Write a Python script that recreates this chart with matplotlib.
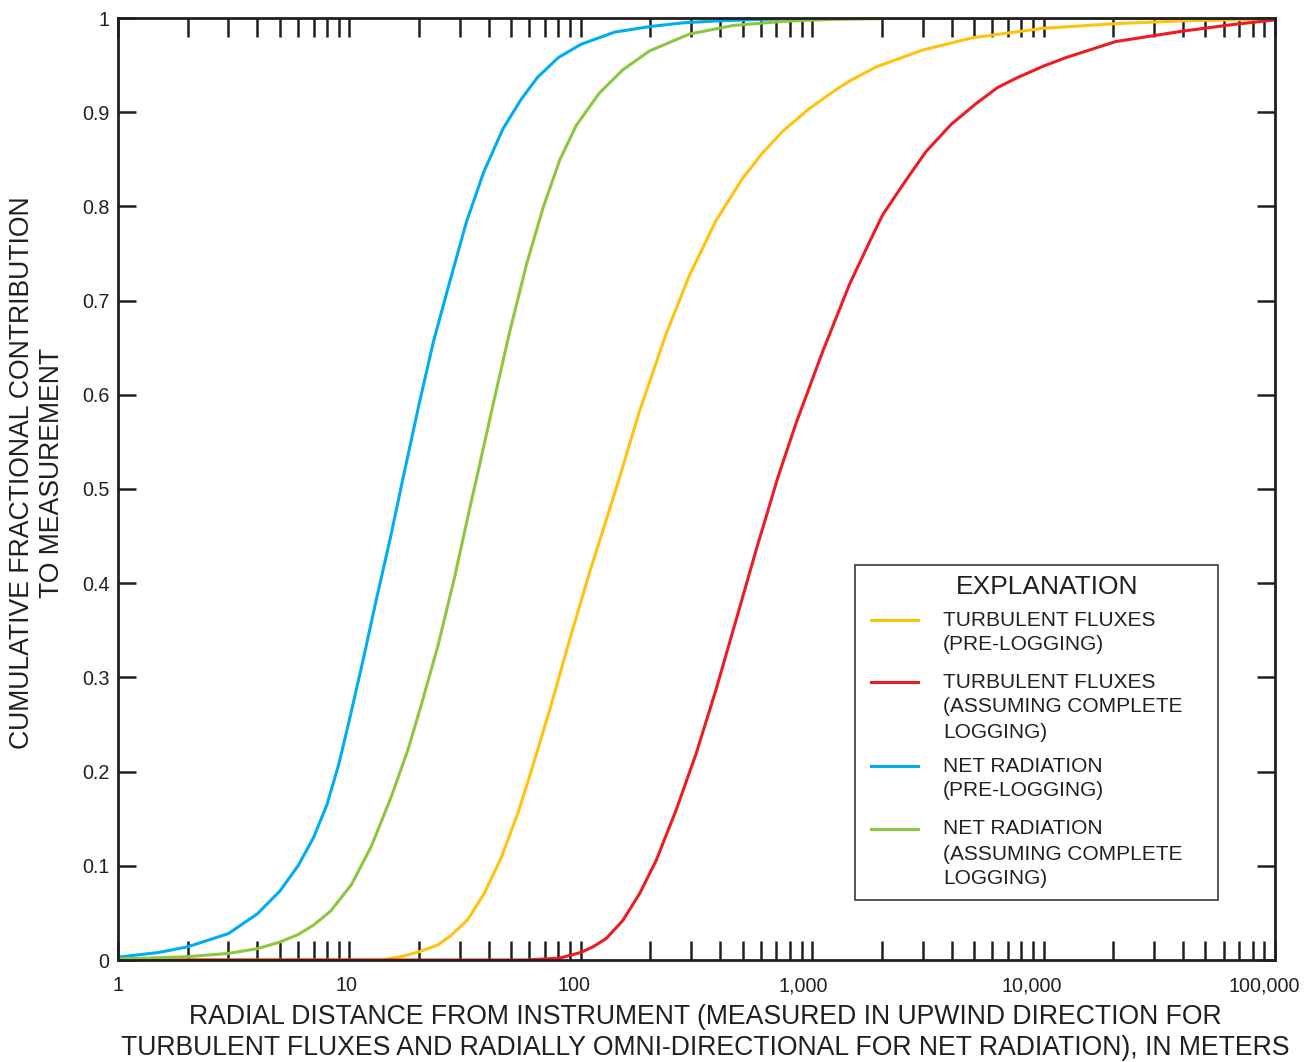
import numpy as np
import matplotlib
matplotlib.use("Agg")
import matplotlib.pyplot as plt
import matplotlib.transforms as mtransforms
from matplotlib.ticker import FixedLocator, FixedFormatter, LogLocator, NullFormatter
from matplotlib.lines import Line2D
from matplotlib.patches import Rectangle

plt.rcParams['font.family'] = ['Liberation Sans', 'DejaVu Sans']

# ---------------- data ----------------
x_ticks = [1, 10, 100, 1000, 10000, 100000]
x_tick_labels = ["1", "10", "100", "1,000", "10,000", "100,000"]
y_ticks = [0, 0.1, 0.2, 0.3, 0.4, 0.5, 0.6, 0.7, 0.8, 0.9, 1.0]
y_tick_labels = ["0", "0.1", "0.2", "0.3", "0.4", "0.5", "0.6", "0.7", "0.8", "0.9", "1"]

turb_pre_x = [1, 13.7, 16.7, 20.2, 24.1, 27.5, 32.5, 38.3, 45.2, 53.3, 60.1, 73.3, 89.5,
              109, 133, 147, 179, 234, 295, 384, 501, 611, 747, 973, 1268, 1448, 1888,
              3000, 4930, 9890, 20500, 39800, 100000]
turb_pre_y = [0, 0, 0.0035, 0.009, 0.016, 0.026, 0.043, 0.071, 0.108, 0.155, 0.195, 0.265,
              0.340, 0.411, 0.478, 0.512, 0.582, 0.665, 0.727, 0.785, 0.830, 0.857, 0.880,
              0.904, 0.924, 0.933, 0.948, 0.966, 0.979, 0.989, 0.994, 0.997, 0.999]

turb_log_x = [1, 58, 81, 100, 113, 129, 152, 180, 212, 258, 315, 384, 469, 572, 664, 710,
              852, 1110, 1448, 1766, 2016, 2512, 3100, 3981, 5100, 6310, 7590, 10000,
              12500, 20500, 39800, 65400, 100000]
turb_log_y = [0, 0, 0.002, 0.008, 0.014, 0.023, 0.042, 0.071, 0.106, 0.159, 0.219, 0.287,
              0.361, 0.435, 0.488, 0.512, 0.570, 0.646, 0.717, 0.762, 0.791, 0.826, 0.858,
              0.887, 0.909, 0.926, 0.936, 0.949, 0.958, 0.975, 0.986, 0.993, 0.998]

rad_pre_x = [1, 1.5, 2, 3, 4, 5, 6, 7, 8, 9, 10, 11.5, 13, 15, 17, 20, 23, 27, 32, 38, 46,
             55, 65, 80, 100, 140, 200, 280, 400, 600, 1000, 100000]
rad_pre_y = [0.003, 0.008, 0.014, 0.028, 0.049, 0.073, 0.100, 0.130, 0.165, 0.208, 0.255,
             0.320, 0.380, 0.447, 0.510, 0.590, 0.655, 0.718, 0.783, 0.836, 0.882, 0.913,
             0.937, 0.958, 0.972, 0.985, 0.991, 0.995, 0.997, 0.9985, 0.9995, 1.0]

rad_log_x = [1, 2, 3, 4, 5, 6, 7, 8.3, 10.2, 12.4, 15.1, 17.9, 20.4, 24.1, 28.4, 33.5, 35.2,
             41.8, 49.3, 58.2, 68.6, 81, 95.6, 120, 152, 198, 295, 454, 750, 1200, 3000, 100000]
rad_log_y = [0.001, 0.0035, 0.007, 0.012, 0.019, 0.027, 0.037, 0.052, 0.080, 0.120, 0.172,
             0.223, 0.270, 0.333, 0.405, 0.485, 0.508, 0.590, 0.667, 0.738, 0.798, 0.849,
             0.886, 0.920, 0.945, 0.965, 0.983, 0.992, 0.9965, 0.9985, 1.0, 1.0]

series_labels = [
    ["TURBULENT FLUXES", "(PRE-LOGGING)"],
    ["TURBULENT FLUXES", "(ASSUMING COMPLETE", "LOGGING)"],
    ["NET RADIATION", "(PRE-LOGGING)"],
    ["NET RADIATION", "(ASSUMING COMPLETE", "LOGGING)"],
]
series_colors = ["#FFC20E", "#ED1C24", "#00AEEF", "#8DC63F"]

# ---------------- figure ----------------
W, H = 1309, 1062
fig = plt.figure(figsize=(W / 100, H / 100), dpi=100)
L_px, R_px, T_px, B_px = 118, 1275, 18, 960
ax = fig.add_axes([L_px / W, 1 - B_px / H, (R_px - L_px) / W, (B_px - T_px) / H])

dark = "#231F20"
lw = 2.2
series = [(turb_pre_x, turb_pre_y), (turb_log_x, turb_log_y),
          (rad_pre_x, rad_pre_y), (rad_log_x, rad_log_y)]
for (xs, ys), c in zip(series, series_colors):
    ax.plot(xs, ys, color=c, lw=lw, solid_joinstyle='round', zorder=2)

ax.set_xscale('log')
ax.set_xlim(1, 100000)
ax.set_ylim(0, 1)

ax.xaxis.set_major_locator(FixedLocator(x_ticks))
ax.xaxis.set_major_formatter(NullFormatter())
ax.xaxis.set_minor_locator(LogLocator(base=10, subs=np.arange(2, 10)))
ax.xaxis.set_minor_formatter(NullFormatter())
ax.yaxis.set_major_locator(FixedLocator(y_ticks))
ax.yaxis.set_major_formatter(FixedFormatter(y_tick_labels))

for sp in ax.spines.values():
    sp.set_linewidth(2.0)
    sp.set_color(dark)
    sp.set_zorder(3)

tick_fs = 14.2
ax.tick_params(axis='x', which='both', direction='in', top=True, bottom=True,
               length=13.5, width=1.8, color=dark)
ax.tick_params(axis='y', which='major', direction='in', left=True, right=True,
               length=13.0, width=1.8, color=dark, labelsize=tick_fs, pad=6, labelcolor=dark)

# x tick labels (slightly shifted left as in the reference)
x_label_shift_px = [0, -3, -7, -9, -12, -11]
base = mtransforms.blended_transform_factory(ax.transData, ax.transAxes)
for xv, txt, dx in zip(x_ticks, x_tick_labels, x_label_shift_px):
    off = mtransforms.ScaledTranslation(dx / 100, -31 / 100, fig.dpi_scale_trans)
    ax.text(xv, 0, txt, transform=base + off, ha='center', va='baseline',
            fontsize=tick_fs, color=dark, clip_on=False)

# axis labels
lab_fs = 19.2
fig.text(705 / W, 1 - 1017 / H,
         "RADIAL DISTANCE FROM INSTRUMENT (MEASURED IN UPWIND DIRECTION FOR",
         ha='center', va='center', fontsize=lab_fs, color=dark)
fig.text(705 / W, 1 - 1048 / H,
         "TURBULENT FLUXES AND RADIALLY OMNI-DIRECTIONAL FOR NET RADIATION), IN METERS",
         ha='center', va='center', fontsize=lab_fs, color=dark)
fig.text(22 / W, 1 - 473 / H, "CUMULATIVE FRACTIONAL CONTRIBUTION",
         ha='center', va='center', rotation=90, fontsize=lab_fs, color=dark)
fig.text(52 / W, 1 - 473 / H, "TO MEASUREMENT",
         ha='center', va='center', rotation=90, fontsize=lab_fs, color=dark)

# explanation box
bx0, by0, bx1, by1 = 855, 565, 1218, 900
fig.add_artist(Rectangle((bx0 / W, 1 - by1 / H), (bx1 - bx0) / W, (by1 - by0) / H,
                         transform=fig.transFigure, facecolor='white',
                         edgecolor='#3a3a3a', lw=1.2, zorder=5))
fig.text(1047 / W, 1 - 587 / H, "EXPLANATION", ha='center', va='center',
         fontsize=19, color=dark, zorder=6)
entry_y = [620, 682, 766, 829]
line_step = 25
for ey, lines, c in zip(entry_y, series_labels, series_colors):
    fig.add_artist(Line2D([871 / W, 918 / W], [1 - ey / H, 1 - ey / H],
                          transform=fig.transFigure, color=c, lw=2.2, zorder=6))
    for i, t in enumerate(lines):
        fig.text(943 / W, 1 - (ey + i * line_step) / H, t, ha='left', va='center',
                 fontsize=15, color=dark, zorder=6)

fig.savefig("out.png", dpi=100)
